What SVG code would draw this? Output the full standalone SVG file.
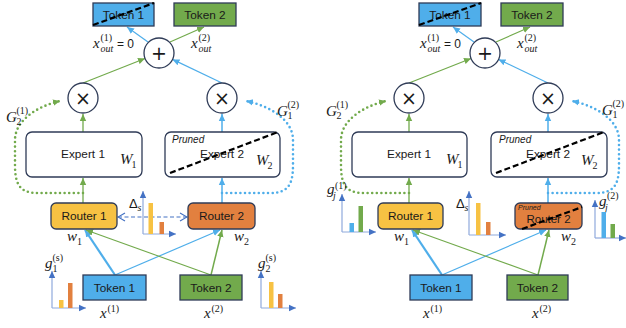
<svg xmlns="http://www.w3.org/2000/svg" width="626" height="328" viewBox="0 0 626 328">
<defs>
<style>
.tok{stroke:#2F3B57;stroke-width:1.3}
.blue{fill:#4FAEEA}
.green{fill:#72AA4C}
.box{fill:#fff;stroke:#2F3B57;stroke-width:1.3}
.r1{fill:#F7C243;stroke:#2F3B57;stroke-width:1.3}
.r2{fill:#E2803F;stroke:#2F3B57;stroke-width:1.3}
.circ{fill:#fff;stroke:#2F3B57;stroke-width:1.3}
.t{font-family:"Liberation Sans","Noto Sans",sans-serif;font-size:11.8px;fill:#1a1a1a;text-anchor:middle}
.sym{font-family:"DejaVu Sans","Liberation Sans",sans-serif;font-size:19px;fill:#1a1a1a;text-anchor:middle}
.pr{font-family:"Liberation Sans",sans-serif;font-style:italic;font-size:10px;fill:#1a1a1a}
.m{font-family:"Liberation Serif",serif;font-style:italic;font-size:15px;fill:#1a1a1a}
.up{font-style:normal;font-size:10px}
.sb{font-size:10px}
.eq{font-family:"Liberation Sans",sans-serif;font-style:normal;font-size:12px}
.cut{stroke:#000;stroke-width:2.2;stroke-dasharray:6 3;fill:none}
.lg{stroke:#72AA4C;fill:none}
.lb{stroke:#4FAEEA;fill:none}
.dotg{stroke:#72AA4C;stroke-width:2.6;stroke-dasharray:0 4.6;stroke-linecap:round;fill:none}
.dotb{stroke:#4FAEEA;stroke-width:2.6;stroke-dasharray:0 4.6;stroke-linecap:round;fill:none}
.ax{stroke:#8FA9DC;stroke-width:1.2;fill:none}
.yb{fill:#F7C243}
.ob{fill:#E2803F}
</style>
<marker id="ag" markerUnits="userSpaceOnUse" markerWidth="8" markerHeight="8" refX="7" refY="4" orient="auto"><path d="M0,0.8 L7,4 L0,7.2 Z" fill="#72AA4C"/></marker>
<marker id="ab" markerUnits="userSpaceOnUse" markerWidth="8" markerHeight="8" refX="7" refY="4" orient="auto"><path d="M0,0.8 L7,4 L0,7.2 Z" fill="#4FAEEA"/></marker>
<marker id="aa" markerUnits="userSpaceOnUse" markerWidth="8" markerHeight="8" refX="7" refY="4" orient="auto"><path d="M0,0.8 L7,4 L0,7.2 Z" fill="#4472C4"/></marker>
<marker id="ad" markerUnits="userSpaceOnUse" markerWidth="9" markerHeight="10" refX="8" refY="5" orient="auto-start-reverse"><path d="M1,1 L8,5 L1,9" fill="none" stroke="#4472C4" stroke-width="1.2"/></marker>
</defs>
<rect width="626" height="328" fill="#fff"/>

<!-- ================= LEFT PANEL ================= -->
<g id="connectors-left">
<line class="lg" x1="83" y1="203" x2="83" y2="178" stroke-width="1.3" marker-end="url(#ag)"/>
<line class="lg" x1="83" y1="132" x2="83" y2="114" stroke-width="1.3" marker-end="url(#ag)"/>
<line class="lb" x1="222" y1="203" x2="222" y2="178" stroke-width="1.5" marker-end="url(#ab)"/>
<line class="lb" x1="222" y1="132" x2="222" y2="114" stroke-width="1.5" marker-end="url(#ab)"/>
<line class="lg" x1="83" y1="83" x2="145" y2="58.5" stroke-width="1.2" marker-end="url(#ag)"/>
<line class="lb" x1="222" y1="83" x2="172.5" y2="59.4" stroke-width="1.2" marker-end="url(#ab)"/>
<line class="lb" x1="148" y1="42" x2="127" y2="27" stroke-width="1.2" marker-end="url(#ab)"/>
<line class="lg" x1="170" y1="42" x2="204" y2="27" stroke-width="1.2" marker-end="url(#ag)"/>
<line class="lb" x1="115" y1="275" x2="85" y2="230" stroke-width="2.2" marker-end="url(#ab)"/>
<line class="lb" x1="115" y1="275" x2="220" y2="230" stroke-width="1.2" marker-end="url(#ab)"/>
<line class="lg" x1="211" y1="275" x2="222" y2="230" stroke-width="1.5" marker-end="url(#ag)"/>
<line class="lg" x1="211" y1="275" x2="86" y2="230" stroke-width="1.1" marker-end="url(#ag)"/>
<path class="dotg" d="M83,193 L38,193 C20,193 15,185 15,165 L15,140 C15,120 38,106 60,101" marker-end="url(#ag)"/>
<path class="dotb" d="M222,193 L270,193 C288,193 293,185 293,165 L293,140 C293,120 270,106 246,101" marker-end="url(#ab)"/>
<line x1="118" y1="217" x2="187" y2="217" stroke="#4472C4" stroke-width="1.2" stroke-dasharray="4 2.5" marker-start="url(#ad)" marker-end="url(#ad)"/>
</g>

<g id="out-token1-left"><rect class="tok blue" x="93" y="3" width="61" height="23"/><text class="t" x="123.5" y="19">Token 1</text><line class="cut" x1="93" y1="25" x2="154" y2="3"/></g>
<g id="out-token2-left"><rect class="tok green" x="174" y="3" width="62" height="23"/><text class="t" x="205" y="19">Token 2</text></g>
<g id="plus-left"><circle class="circ" cx="159" cy="53" r="15"/><text class="sym" x="159" y="60">+</text></g>
<g id="mul1-left"><circle class="circ" cx="83" cy="98" r="15"/><text class="sym" x="83" y="105">×</text></g>
<g id="mul2-left"><circle class="circ" cx="222" cy="98" r="15"/><text class="sym" x="222" y="105">×</text></g>
<g id="expert1-left"><rect class="box" x="26" y="132" width="116" height="45" rx="6"/><text class="t" x="83" y="158">Expert 1</text>
<text class="m"><tspan x="120" y="164">W</tspan><tspan class="up" x="131.5" y="168">1</tspan></text></g>
<g id="expert2-left"><rect class="box" x="165" y="132" width="115" height="45" rx="6"/><text class="pr" x="172" y="143">Pruned</text><text class="t" x="222" y="158">Expert 2</text>
<text class="m"><tspan x="256" y="165">W</tspan><tspan class="up" x="267.5" y="169">2</tspan></text><line class="cut" x1="170" y1="173" x2="278" y2="132"/></g>
<g id="router1-left"><rect class="r1" x="51" y="203" width="66" height="26" rx="5"/><text class="t" x="84" y="220">Router 1</text></g>
<g id="router2-left"><rect class="r2" x="188" y="203" width="67" height="26" rx="5"/><text class="t" x="221.5" y="220">Router 2</text></g>
<g id="in-token1-left"><rect class="tok blue" x="83" y="275" width="63" height="25"/><text class="t" x="114.5" y="292">Token 1</text></g>
<g id="in-token2-left"><rect class="tok green" x="180" y="275" width="62" height="25"/><text class="t" x="211" y="292">Token 2</text></g>

<g id="labels-left">
<text class="m"><tspan x="93" y="48">x</tspan><tspan class="up" x="100.5" y="41">(1)</tspan><tspan class="sb" x="100.5" y="52">out</tspan><tspan class="eq" x="117" y="48">= 0</tspan></text>
<text class="m"><tspan x="191" y="48">x</tspan><tspan class="up" x="198.5" y="41">(2)</tspan><tspan class="sb" x="198.5" y="52">out</tspan></text>
<text class="m"><tspan x="6" y="122">G</tspan><tspan class="up" x="16.5" y="114">(1)</tspan><tspan class="up" x="16.5" y="125">2</tspan></text>
<text class="m"><tspan x="277" y="116">G</tspan><tspan class="up" x="287.5" y="108">(2)</tspan><tspan class="up" x="287.5" y="119">1</tspan></text>
<text class="m"><tspan x="67" y="241">w</tspan><tspan class="up" x="77" y="245">1</tspan></text>
<text class="m"><tspan x="234" y="241">w</tspan><tspan class="up" x="244" y="245">2</tspan></text>
<text class="m"><tspan x="100" y="318">x</tspan><tspan class="up" x="107.5" y="312">(1)</tspan></text>
<text class="m"><tspan x="204" y="318">x</tspan><tspan class="up" x="211.5" y="312">(2)</tspan></text>
<text class="m"><tspan x="45" y="268">g</tspan><tspan class="up" x="52.5" y="261">(s)</tspan><tspan class="up" x="52.5" y="272">1</tspan></text>
<text class="m"><tspan x="258" y="268">g</tspan><tspan class="up" x="265.5" y="261">(s)</tspan><tspan class="up" x="265.5" y="272">2</tspan></text>
<text class="m"><tspan class="eq" x="129" y="208" style="font-size:13px">Δ</tspan><tspan class="sb" x="137.5" y="211">s</tspan></text>
</g>

<g id="chart-delta-left">
<line class="ax" x1="143" y1="234" x2="143" y2="191" marker-end="url(#aa)"/>
<line class="ax" x1="143" y1="234" x2="176" y2="234" marker-end="url(#aa)"/>
<rect class="yb" x="148.5" y="203" width="4.5" height="31"/><rect class="ob" x="159.5" y="222" width="4.5" height="12"/>
</g>
<g id="chart-g1-left">
<line class="ax" x1="52" y1="308" x2="52" y2="271" marker-end="url(#aa)"/>
<line class="ax" x1="52" y1="308" x2="86" y2="308" marker-end="url(#aa)"/>
<rect class="yb" x="59" y="300" width="4.5" height="8"/><rect class="ob" x="68" y="283" width="4.5" height="25"/>
</g>
<g id="chart-g2-left">
<line class="ax" x1="261" y1="308" x2="261" y2="271" marker-end="url(#aa)"/>
<line class="ax" x1="261" y1="308" x2="296" y2="308" marker-end="url(#aa)"/>
<rect class="yb" x="269" y="282" width="4.5" height="26"/><rect class="ob" x="278" y="294" width="4.5" height="14"/>
</g>

<!-- ================= RIGHT PANEL ================= -->
<g id="connectors-right">
<line class="lg" x1="409" y1="203" x2="409" y2="178" stroke-width="1.3" marker-end="url(#ag)"/>
<line class="lg" x1="409" y1="132" x2="409" y2="114" stroke-width="1.3" marker-end="url(#ag)"/>
<line class="lb" x1="548" y1="203" x2="548" y2="178" stroke-width="1.5" marker-end="url(#ab)"/>
<line class="lb" x1="548" y1="132" x2="548" y2="114" stroke-width="1.5" marker-end="url(#ab)"/>
<line class="lg" x1="409" y1="83" x2="471" y2="58.5" stroke-width="1.2" marker-end="url(#ag)"/>
<line class="lb" x1="548" y1="83" x2="498.5" y2="59.4" stroke-width="1.2" marker-end="url(#ab)"/>
<line class="lb" x1="474" y1="42" x2="453" y2="27" stroke-width="1.2" marker-end="url(#ab)"/>
<line class="lg" x1="496" y1="42" x2="530" y2="27" stroke-width="1.2" marker-end="url(#ag)"/>
<line class="lb" x1="442" y1="275" x2="412" y2="230" stroke-width="2.2" marker-end="url(#ab)"/>
<line class="lb" x1="442" y1="275" x2="546" y2="230" stroke-width="1.2" marker-end="url(#ab)"/>
<line class="lg" x1="538" y1="275" x2="549" y2="230" stroke-width="1.5" marker-end="url(#ag)"/>
<line class="lg" x1="538" y1="275" x2="413" y2="230" stroke-width="1.1" marker-end="url(#ag)"/>
<path class="dotg" d="M409,193 L364,193 C346,193 341,185 341,165 L341,140 C341,120 364,106 386,101" marker-end="url(#ag)"/>
<path class="dotb" d="M548,193 L596,193 C614,193 619,185 619,165 L619,140 C619,120 596,106 572,101" marker-end="url(#ab)"/>
</g>

<g id="out-token1-right"><rect class="tok blue" x="419" y="3" width="62" height="23"/><text class="t" x="450" y="19">Token 1</text><line class="cut" x1="419" y1="25" x2="481" y2="3"/></g>
<g id="out-token2-right"><rect class="tok green" x="501" y="3" width="62" height="23"/><text class="t" x="532" y="19">Token 2</text></g>
<g id="plus-right"><circle class="circ" cx="485" cy="53" r="15"/><text class="sym" x="485" y="60">+</text></g>
<g id="mul1-right"><circle class="circ" cx="409" cy="98" r="15"/><text class="sym" x="409" y="105">×</text></g>
<g id="mul2-right"><circle class="circ" cx="548" cy="98" r="15"/><text class="sym" x="548" y="105">×</text></g>
<g id="expert1-right"><rect class="box" x="352" y="132" width="115" height="45" rx="6"/><text class="t" x="409" y="158">Expert 1</text>
<text class="m"><tspan x="446" y="164">W</tspan><tspan class="up" x="457.5" y="168">1</tspan></text></g>
<g id="expert2-right"><rect class="box" x="491" y="132" width="116" height="45" rx="6"/><text class="pr" x="499" y="143">Pruned</text><text class="t" x="548" y="158">Expert 2</text>
<text class="m"><tspan x="581" y="165">W</tspan><tspan class="up" x="592.5" y="169">2</tspan></text><line class="cut" x1="496" y1="173" x2="604" y2="132"/></g>
<g id="router1-right"><rect class="r1" x="378" y="203" width="65" height="26" rx="5"/><text class="t" x="410.5" y="220">Router 1</text></g>
<g id="router2-right"><rect class="r2" x="515" y="203" width="67" height="26" rx="5"/><text class="pr" x="518" y="210" style="font-size:7px">Pruned</text><text class="t" x="548.5" y="222.5" style="font-size:11.5px">Router 2</text><line class="cut" x1="522" y1="229" x2="582" y2="207"/></g>
<g id="in-token1-right"><rect class="tok blue" x="410" y="275" width="62" height="25"/><text class="t" x="441" y="292">Token 1</text></g>
<g id="in-token2-right"><rect class="tok green" x="507" y="275" width="61" height="25"/><text class="t" x="537.5" y="292">Token 2</text></g>

<g id="labels-right">
<text class="m"><tspan x="420" y="48">x</tspan><tspan class="up" x="427.5" y="41">(1)</tspan><tspan class="sb" x="427.5" y="52">out</tspan><tspan class="eq" x="444" y="48">= 0</tspan></text>
<text class="m"><tspan x="517" y="48">x</tspan><tspan class="up" x="524.5" y="41">(2)</tspan><tspan class="sb" x="524.5" y="52">out</tspan></text>
<text class="m"><tspan x="326" y="116">G</tspan><tspan class="up" x="336.5" y="108">(1)</tspan><tspan class="up" x="336.5" y="119">2</tspan></text>
<text class="m"><tspan x="602" y="115">G</tspan><tspan class="up" x="612.5" y="107">(2)</tspan><tspan class="up" x="612.5" y="118">1</tspan></text>
<text class="m"><tspan x="394" y="241">w</tspan><tspan class="up" x="404" y="245">1</tspan></text>
<text class="m"><tspan x="561" y="241">w</tspan><tspan class="up" x="571" y="245">2</tspan></text>
<text class="m"><tspan x="423" y="318">x</tspan><tspan class="up" x="430.5" y="312">(1)</tspan></text>
<text class="m"><tspan x="532" y="318">x</tspan><tspan class="up" x="539.5" y="312">(2)</tspan></text>
<text class="m"><tspan x="327" y="194">g</tspan><tspan class="up" x="335" y="189">(1)</tspan><tspan class="sb" x="333" y="199">j</tspan></text>
<text class="m"><tspan x="599" y="206">g</tspan><tspan class="up" x="607" y="199">(2)</tspan><tspan class="sb" x="605" y="211">j</tspan></text>
<text class="m"><tspan class="eq" x="456" y="208" style="font-size:13px">Δ</tspan><tspan class="sb" x="464.5" y="211">s</tspan></text>
</g>

<g id="chart-delta-right">
<line class="ax" x1="469" y1="235" x2="469" y2="191" marker-end="url(#aa)"/>
<line class="ax" x1="469" y1="235" x2="506" y2="235" marker-end="url(#aa)"/>
<rect class="yb" x="476" y="203" width="4.5" height="32"/><rect class="ob" x="486" y="222" width="4.5" height="13"/>
</g>
<g id="chart-g1-right">
<line class="ax" x1="342" y1="232" x2="342" y2="194" marker-end="url(#aa)"/>
<line class="ax" x1="342" y1="232" x2="376" y2="232" marker-end="url(#aa)"/>
<rect class="blue" x="349.5" y="223" width="4.5" height="9"/><rect class="green" x="358.5" y="206" width="4.5" height="26"/>
</g>
<g id="chart-g2-right">
<line class="ax" x1="595" y1="238" x2="595" y2="200" marker-end="url(#aa)"/>
<line class="ax" x1="595" y1="238" x2="626" y2="238" marker-end="url(#aa)"/>
<rect class="blue" x="601.5" y="212" width="4.5" height="26"/><rect class="green" x="610.5" y="224" width="4.5" height="14"/>
</g>
</svg>
